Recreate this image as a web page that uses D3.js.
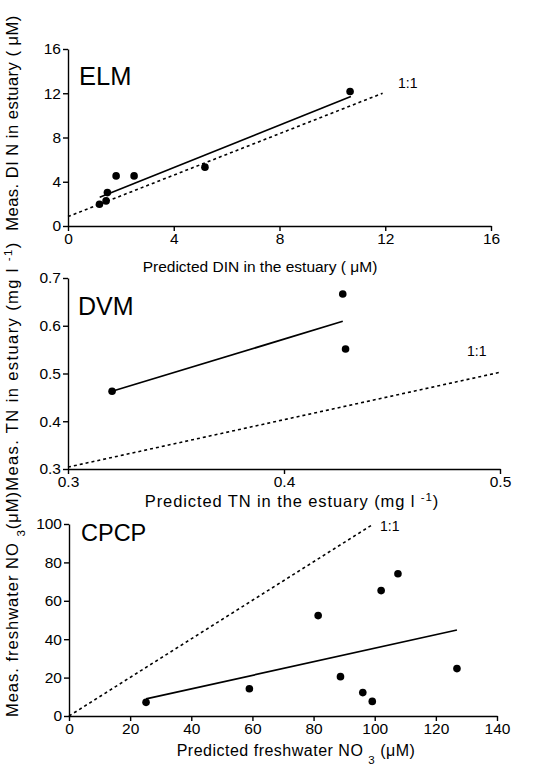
<!DOCTYPE html>
<html><head><meta charset="utf-8">
<script src="https://cdn.jsdelivr.net/npm/d3@7/dist/d3.min.js"></script>
<style>
body{margin:0;background:#fff;}
svg{display:block;font-family:"Liberation Sans",Arial,Helvetica,sans-serif;}
.axis path,.axis line{stroke:#000;stroke-width:1.4;}
.axis text{font-size:15.5px;fill:#000;font-family:"Liberation Sans",Arial,sans-serif;}
</style></head><body>
<script>
// ---- Data ----
// ELM panel
const elmPredDIN = [1.19, 1.44, 1.49, 1.82, 2.50, 5.18, 10.67];
const elmMeasDIN = [1.96, 2.27, 3.02, 4.53, 4.53, 5.32, 12.16];
const elmFitX = [1.2, 10.7];
const elmFitY = [2.6, 11.7];
const elmOneX = [0, 11.9];
const elmOneY = [0.85, 12];
const elmTicks = [0, 4, 8, 12, 16];

// DVM panel
const dvmPredTN = [0.3204, 0.4272, 0.4285];
const dvmMeasTN = [0.4627, 0.6665, 0.5513];
const dvmFitX = [0.3204, 0.4272];
const dvmFitY = [0.4627, 0.6093];
const dvmOneX = [0.3, 0.5];
const dvmOneY = [0.304, 0.5025];
const dvmXTicks = [0.3, 0.4, 0.5];
const dvmYTicks = [0.3, 0.4, 0.5, 0.6, 0.7];

// CPCP panel
const cpcpPredNO3 = [25.2, 59.0, 81.5, 88.8, 96.1, 99.2, 102.1, 107.6, 126.9];
const cpcpMeasNO3 = [7.1, 14.2, 52.3, 20.5, 12.2, 7.6, 65.3, 74.1, 24.7];
const cpcpFitX = [25.2, 126.9];
const cpcpFitY = [8.9, 44.8];
const cpcpOneX = [0, 99.6];
const cpcpOneY = [0, 100];
const cpcpXTicks = [0, 20, 40, 60, 80, 100, 120, 140];
const cpcpYTicks = [0, 20, 40, 60, 80, 100];

const W = 545, H = 769;
const svg = d3.select("body").append("svg").attr("width", W).attr("height", H);

function panel(cfg) {
  const x = d3.scaleLinear().domain(cfg.xDom).range(cfg.xRange);
  const y = d3.scaleLinear().domain(cfg.yDom).range(cfg.yRange);
  const g = svg.append("g");
  g.append("g").attr("class", "axis")
    .attr("transform", `translate(0,${cfg.yRange[0]})`)
    .call(d3.axisBottom(x).tickValues(cfg.xTicks).tickSize(5).tickSizeOuter(0).tickPadding(2).tickFormat(cfg.fmt || d3.format("")));
  g.append("g").attr("class", "axis")
    .attr("transform", `translate(${cfg.xRange[0]},0)`)
    .call(d3.axisLeft(y).tickValues(cfg.yTicks).tickSize(5).tickSizeOuter(0).tickPadding(2).tickFormat(cfg.fmt || d3.format("")));
  const line = d3.line().x(d => x(d[0])).y(d => y(d[1]));
  // 1:1 dotted line
  g.append("path").datum(d3.zip(cfg.oneX, cfg.oneY)).attr("d", line)
    .attr("fill", "none").attr("stroke", "#000").attr("stroke-width", 1.6)
    .attr("stroke-dasharray", "3,3");
  // fit line
  g.append("path").datum(d3.zip(cfg.fitX, cfg.fitY)).attr("d", line)
    .attr("fill", "none").attr("stroke", "#000").attr("stroke-width", 1.7);
  // points
  g.selectAll("circle.pt").data(d3.zip(cfg.px, cfg.py)).join("circle")
    .attr("cx", d => x(d[0])).attr("cy", d => y(d[1])).attr("r", 3.8).attr("fill", "#000");
  return {x, y, g};
}

// ---- ELM ----
panel({xDom:[0,16], xRange:[68,491], yDom:[0,16], yRange:[226,49],
  xTicks: elmTicks, yTicks: elmTicks, px: elmPredDIN, py: elmMeasDIN,
  fitX: elmFitX, fitY: elmFitY, oneX: elmOneX, oneY: elmOneY});
// ---- DVM ----
panel({xDom:[0.3,0.5], xRange:[68,500], yDom:[0.3,0.7], yRange:[469,278],
  xTicks: dvmXTicks, yTicks: dvmYTicks, px: dvmPredTN, py: dvmMeasTN, fmt: d3.format(".1f"),
  fitX: dvmFitX, fitY: dvmFitY, oneX: dvmOneX, oneY: dvmOneY});
// ---- CPCP ----
panel({xDom:[0,140], xRange:[69,497], yDom:[0,100], yRange:[716,524],
  xTicks: cpcpXTicks, yTicks: cpcpYTicks, px: cpcpPredNO3, py: cpcpMeasNO3,
  fitX: cpcpFitX, fitY: cpcpFitY, oneX: cpcpOneX, oneY: cpcpOneY});

// panel names
svg.append("text").attr("x", 79).attr("y", 85).attr("font-size", 25.5).text("ELM");
svg.append("text").attr("x", 78).attr("y", 315).attr("font-size", 25).text("DVM");
svg.append("text").attr("x", 81).attr("y", 541).attr("font-size", 23.5).text("CPCP");

// 1:1 labels
svg.append("text").attr("x", 398).attr("y", 88).attr("font-size", 14).text("1:1");
svg.append("text").attr("x", 467).attr("y", 356).attr("font-size", 14).text("1:1");
svg.append("text").attr("x", 380).attr("y", 531).attr("font-size", 14).text("1:1");

// x axis labels
const lab = svg.append("g").attr("text-anchor", "middle");
lab.append("text").attr("x", 260).attr("y", 272).attr("font-size", 15.5)
  .text("Predicted DIN in the estuary ( \u03BCM)");
const t2 = lab.append("text").attr("x", 292).attr("y", 507).attr("font-size", 16.5).attr("letter-spacing", 0.9);
t2.append("tspan").text("Predicted TN in the estuary (mg l ");
t2.append("tspan").attr("dy", -6).attr("font-size", 11.5).text("-1");
t2.append("tspan").attr("dy", 6).text(")");
const t3 = lab.append("text").attr("x", 296).attr("y", 756).attr("font-size", 16).attr("letter-spacing", 0.5);
t3.append("tspan").text("Predicted freshwater NO ");
t3.append("tspan").attr("dy", 8).attr("font-size", 11.5).text("3");
t3.append("tspan").attr("dy", -8).text(" (\u03BCM)");

// y axis labels (rotated)
const ylab = svg.append("g").attr("text-anchor", "middle").attr("font-size", 16.5);
ylab.append("text").attr("transform", "translate(18,123) rotate(-90)").attr("letter-spacing", 0.5)
  .text("Meas.  DI N in estuary ( \u03BCM)");
const y2 = ylab.append("text").attr("transform", "translate(18,366) rotate(-90)").attr("letter-spacing", 1.4);
y2.append("tspan").text("Meas.  TN in estuary (mg l ");
y2.append("tspan").attr("dy", -6).attr("font-size", 11.5).text("-1");
y2.append("tspan").attr("dy", 6).text(")");
const y3 = ylab.append("text").attr("transform", "translate(18,604) rotate(-90)").attr("letter-spacing", 1);
y3.append("tspan").text("Meas.  freshwater NO ");
y3.append("tspan").attr("dy", 7).attr("font-size", 11.5).text("3");
y3.append("tspan").attr("dy", -7).text("(\u03BCM)");
</script>
</body></html>
